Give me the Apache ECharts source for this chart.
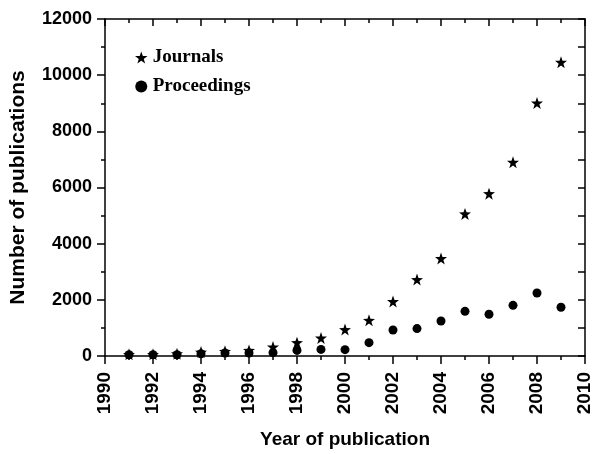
<!DOCTYPE html>
<html>
<head>
<meta charset="utf-8">
<script src="https://cdn.jsdelivr.net/npm/echarts@6/dist/echarts.min.js"></script>
<style>
html,body{margin:0;padding:0;background:#fff;}
#chart{width:596px;height:454px;}
</style>
</head>
<body>
<div id="chart"></div>
<script>
var years = [1991,1992,1993,1994,1995,1996,1997,1998,1999,2000,2001,2002,2003,2004,2005,2006,2007,2008,2009];
var journals = [60,60,80,140,165,200,320,475,640,940,1270,1940,2720,3470,5060,5780,6900,9010,10460];
var proceedings = [45,45,45,80,105,105,120,200,235,225,475,925,975,1245,1590,1485,1805,2245,1735];
var seriesNames = ['Journals','Proceedings'];

var starPath = 'path://M50,0 L62,34 L98,35 L69,57 L80,92 L50,71 L20,92 L31,57 L2,35 L38,34 Z';

function pairs(xs, ys){ return xs.map(function(x,i){ return [x, ys[i]]; }); }

var chart = echarts.init(document.getElementById('chart'), null, {renderer:'canvas'});
var axisFont = 'Liberation Sans, Arial, sans-serif';
var lineStyle = {color:'#000', width:1.5};
chart.setOption({
  backgroundColor:'#fff',
  animation:false,
  grid:{left:105, right:11, top:19, bottom:98, containLabel:false},
  legend:{
    orient:'vertical', left:130, top:43, itemGap:10,
    itemWidth:13, itemHeight:12,
    data:[{name:seriesNames[0], icon:starPath},{name:seriesNames[1], icon:'circle'}],
    itemStyle:{opacity:1},
    textStyle:{fontFamily:'Liberation Serif, Times New Roman, serif', fontWeight:'bold', fontSize:19, color:'#000', lineHeight:19}
  },
  xAxis:[{
    type:'value', min:1990, max:2010, interval:2, position:'bottom',
    axisLine:{show:true, lineStyle:lineStyle, onZero:false},
    axisTick:{show:true, inside:false, length:8, lineStyle:lineStyle},
    minorTick:{show:true, splitNumber:2, length:4, lineStyle:{color:'#000', width:1.5}},
    splitLine:{show:false},
    axisLabel:{rotate:90, margin:16, color:'#000', fontFamily:axisFont, fontWeight:'bold', fontSize:19, formatter:function(v){return String(v);}},
    name:'Year of publication', nameLocation:'middle', nameGap:74,
    nameTextStyle:{color:'#000', fontFamily:axisFont, fontWeight:'bold', fontSize:19}
  },{
    type:'value', min:1990, max:2010, interval:2, position:'top',
    axisLine:{show:true, lineStyle:lineStyle, onZero:false},
    axisTick:{show:true, inside:true, length:7, lineStyle:lineStyle},
    minorTick:{show:true, splitNumber:2, length:4, lineStyle:{color:'#000', width:1.5}},
    splitLine:{show:false}, axisLabel:{show:false}
  }],
  yAxis:[{
    type:'value', min:0, max:12000, interval:2000, position:'left',
    axisLine:{show:true, lineStyle:lineStyle, onZero:false},
    axisTick:{show:true, inside:false, length:8, lineStyle:lineStyle},
    minorTick:{show:true, splitNumber:2, length:4, lineStyle:{color:'#000', width:1.5}},
    splitLine:{show:false},
    axisLabel:{margin:13, color:'#000', fontFamily:axisFont, fontWeight:'bold', fontSize:18, formatter:function(v){return String(v);}},
    name:'Number of publications', nameLocation:'middle', nameGap:76,
    nameTextStyle:{color:'#000', fontFamily:axisFont, fontWeight:'bold', fontSize:21}
  },{
    type:'value', min:0, max:12000, interval:2000, position:'right',
    axisLine:{show:true, lineStyle:lineStyle, onZero:false},
    axisTick:{show:true, inside:true, length:7, lineStyle:lineStyle},
    minorTick:{show:true, splitNumber:2, length:7, lineStyle:{color:'#000', width:1.5}},
    splitLine:{show:false}, axisLabel:{show:false}
  }],
  series:[{
    name:seriesNames[0], type:'scatter', xAxisIndex:0, yAxisIndex:0,
    symbol:starPath, symbolSize:12, itemStyle:{color:'#000', opacity:1},
    data:pairs(years, journals), z:3
  },{
    name:seriesNames[1], type:'scatter', xAxisIndex:0, yAxisIndex:0,
    symbol:'circle', symbolSize:9, itemStyle:{color:'#000', opacity:1},
    data:pairs(years, proceedings), z:2
  }]
});
</script>
</body>
</html>
